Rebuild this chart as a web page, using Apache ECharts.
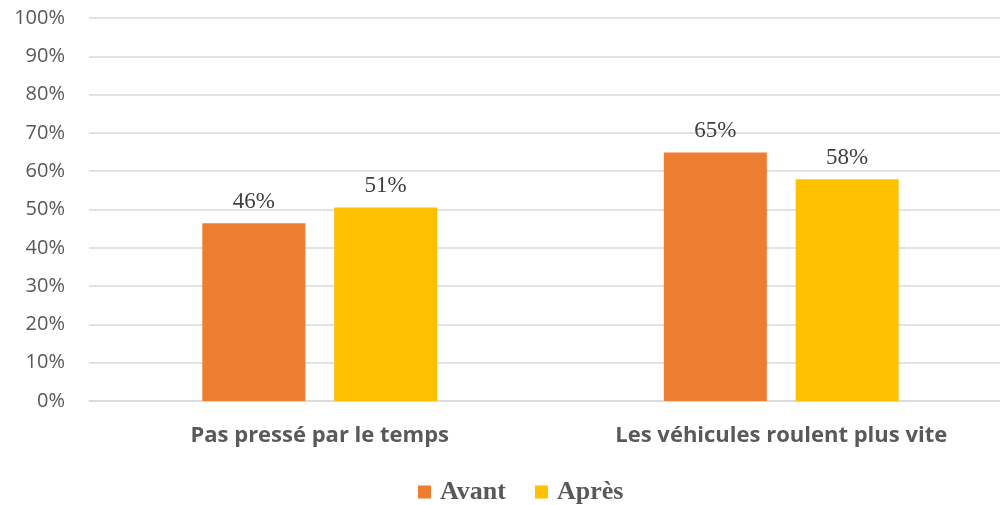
<!DOCTYPE html>
<html>
<head>
<meta charset="utf-8">
<script src="https://cdn.jsdelivr.net/npm/echarts@6/dist/echarts.min.js"></script>
<style>html,body{margin:0;padding:0;background:#fff}#c{width:1000px;height:505px}</style>
</head>
<body>
<div id="c"></div>
<script>
var categories = ['Pas pressé par le temps', 'Les véhicules roulent plus vite'];
var seriesNames = ['Avant', 'Après'];
var avant = [46.4, 64.9];
var apres = [50.5, 57.9];
var colors = ['#ED7D31', '#FFC000'];

var chart = echarts.init(document.getElementById('c'));
var labelStyle = {
  show: true, position: 'top', distance: 10,
  fontFamily: '"Liberation Serif", "Times New Roman", serif',
  fontSize: 23, color: '#404040',
  formatter: function (p) { return Math.round(p.value) + '%'; }
};
chart.setOption({
  animation: false,
  color: colors,
  grid: { left: 89, width: 923, top: 18, height: 383, containLabel: false, outerBoundsMode: 'none' },
  legend: {
    data: seriesNames,
    top: 474, left: 413,
    itemWidth: 13, itemHeight: 13, itemGap: 29,
    icon: 'rect',
    textStyle: { fontFamily: '"Liberation Serif", "Times New Roman", serif', fontWeight: 'bold', fontSize: 26, color: '#595959', padding: [0, 0, 0, 4] }
  },
  xAxis: {
    type: 'category', data: categories,
    axisLine: { lineStyle: { color: '#D9D9D9', width: 1.5 } },
    axisTick: { show: false },
    axisLabel: { margin: 24, fontFamily: '"Open Sans", "Liberation Sans", sans-serif', fontWeight: 'bold', fontSize: 22, color: '#595959' }
  },
  yAxis: {
    type: 'value', min: 0, max: 100, interval: 10,
    axisLine: { show: false }, axisTick: { show: false },
    splitLine: { lineStyle: { color: '#D9D9D9', width: 1.5 } },
    axisLabel: { margin: 24, formatter: '{value}%', fontFamily: '"Open Sans", "Liberation Sans", sans-serif', fontSize: 20, color: '#595959' }
  },
  series: [
    { name: seriesNames[0], type: 'bar', data: avant, barWidth: 103, barGap: '28%', label: labelStyle },
    { name: seriesNames[1], type: 'bar', data: apres, barWidth: 103, barGap: '28%', label: labelStyle }
  ]
});
</script>
</body>
</html>
